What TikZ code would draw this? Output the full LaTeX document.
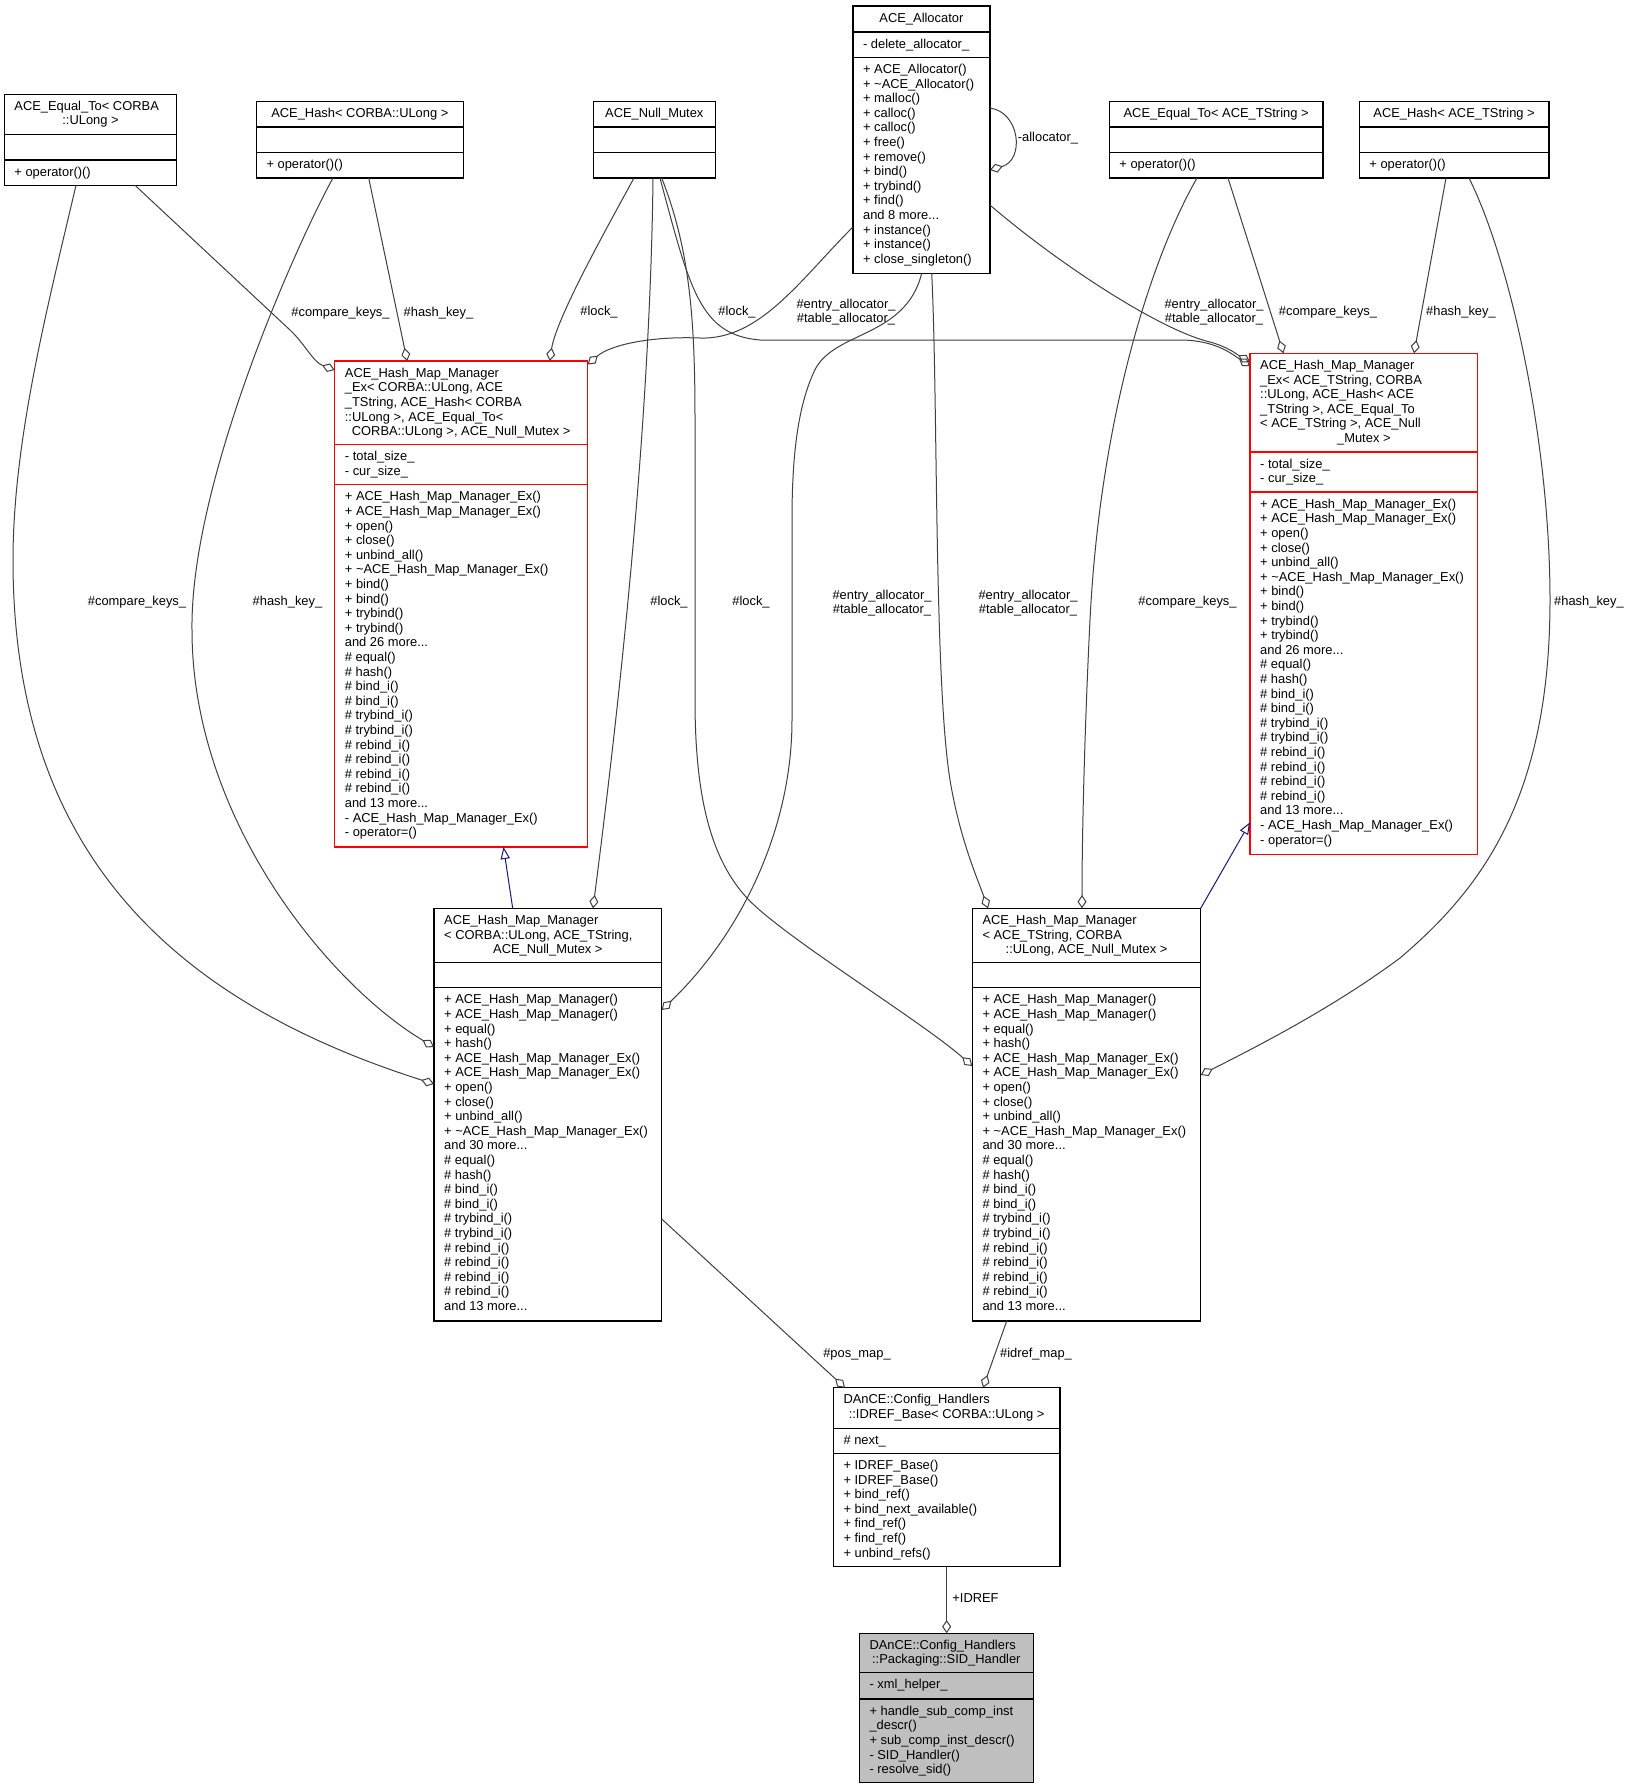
\documentclass[tikz,border=0pt]{standalone}
\usepackage{fontspec}
\setmainfont{Liberation Sans}
\usetikzlibrary{arrows.meta,calc}
\definecolor{edgegray}{HTML}{404040}
\definecolor{inhblue}{HTML}{191970}
\definecolor{boxgray}{HTML}{BFBFBF}
\tikzset{every node/.style={font=\fontsize{12.9}{14.6}\selectfont,inner sep=0pt}}

\begin{document}
\begin{tikzpicture}[x=1pt,y=-1pt]

\fill[white] (0,0) rectangle (1629,1789);
\useasboundingbox (0,0) rectangle (1629,1789);

\tikzstyle{cbox}=[rectangle,draw=black,fill=white,line width=1.2pt,outer sep=0pt,anchor=north west]
\tikzstyle{rbox}=[cbox,draw=red]
\tikzstyle{gbox}=[cbox,fill=boxgray]
\tikzstyle{hline}=[line width=1.2pt]
\tikzstyle{txt}=[anchor=north west,align=left]
\tikzstyle{ttl}=[anchor=base]
\tikzstyle{lab}=[anchor=center,align=center]
\tikzstyle{agg}=[edgegray,line width=1pt,-{Diamond[open,length=13.3pt,width=9pt]}]
\tikzstyle{inh}=[inhblue,line width=1pt,-{Triangle[open,length=12pt,width=9.3pt]}]

% ACE_Equal_To< CORBA::ULong >
\node[cbox,minimum width=172.6pt,minimum height=91pt] (EqU) at (4.2,94.3) {};
\draw[hline] ($(EqU.north west)+(0,40.4)$) -- +(172.6,0);
\draw[hline] ($(EqU.north west)+(0,65.7)$) -- +(172.6,0);
\node[txt] (EqU-t) at ($(EqU.north west)+(10,5.8)$) {\strut ACE\_Equal\_To< CORBA};
\node[ttl] (EqU-tc) at ($(EqU.north)+(0,30.6)$) {::ULong >};
\node[txt] (EqU-m) at ($(EqU.north west)+(10,71.5)$) {\strut + operator()()};

% ACE_Hash< CORBA::ULong >
\node[cbox,minimum width=207.1pt,minimum height=76.3pt] (HU) at (256.3,101.7) {};
\draw[hline] ($(HU.north west)+(0,25.3)$) -- +(207.1,0);
\draw[hline] ($(HU.north west)+(0,50.6)$) -- +(207.1,0);
\node[ttl] (HU-t) at ($(HU.north)+(0,16)$) {ACE\_Hash< CORBA::ULong >};
\node[txt] (HU-m) at ($(HU.north west)+(10,56.4)$) {\strut + operator()()};

% ACE_Null_Mutex
\node[cbox,minimum width=122.4pt,minimum height=76.3pt] (NM) at (593.1,101.7) {};
\draw[hline] ($(NM.north west)+(0,25.3)$) -- +(122.4,0);
\draw[hline] ($(NM.north west)+(0,50.6)$) -- +(122.4,0);
\node[ttl] (NM-t) at ($(NM.north)+(0,16)$) {ACE\_Null\_Mutex};

% ACE_Allocator
\node[cbox,minimum width=137pt,minimum height=267.3pt] (Al) at (852.9,6) {};
\draw[hline] ($(Al.north west)+(0,26)$) -- +(137,0);
\draw[hline] ($(Al.north west)+(0,51.3)$) -- +(137,0);
\node[ttl] (Al-t) at ($(Al.north)+(0,16)$) {ACE\_Allocator};
\node[txt] (Al-a) at ($(Al.north west)+(10,31.8)$) {\strut - delete\_allocator\_};
\node[txt] (Al-m) at ($(Al.north west)+(10,57.1)$) {\strut + ACE\_Allocator()\\
  + \textasciitilde ACE\_Allocator()\\ + malloc()\\ + calloc()\\ + calloc()\\
  + free()\\ + remove()\\ + bind()\\ + trybind()\\ + find()\\ and 8 more...\\
  + instance()\\ + instance()\\ + close\_singleton()};

% ACE_Equal_To< ACE_TString >
\node[cbox,minimum width=213.8pt,minimum height=76.3pt] (ET) at (1109.2,101.7) {};
\draw[hline] ($(ET.north west)+(0,25.3)$) -- +(213.8,0);
\draw[hline] ($(ET.north west)+(0,50.6)$) -- +(213.8,0);
\node[ttl] (ET-t) at ($(ET.north)+(0,16)$) {ACE\_Equal\_To< ACE\_TString >};
\node[txt] (ET-m) at ($(ET.north west)+(10,56.4)$) {\strut + operator()()};

% ACE_Hash< ACE_TString >
\node[cbox,minimum width=189.8pt,minimum height=76.3pt] (HT) at (1359.2,101.7) {};
\draw[hline] ($(HT.north west)+(0,25.3)$) -- +(189.8,0);
\draw[hline] ($(HT.north west)+(0,50.6)$) -- +(189.8,0);
\node[ttl] (HT-t) at ($(HT.north)+(0,16)$) {ACE\_Hash< ACE\_TString >};
\node[txt] (HT-m) at ($(HT.north west)+(10,56.4)$) {\strut + operator()()};

% ACE_Hash_Map_Manager_Ex< CORBA::ULong, ... >
\node[rbox,minimum width=253pt,minimum height=486pt] (XU) at (334.7,361) {};
\draw[hline,red] ($(XU.north west)+(0,83.7)$) -- +(253,0);
\draw[hline,red] ($(XU.north west)+(0,123.7)$) -- +(253,0);
\node[txt] (XU-t) at ($(XU.north west)+(10,5.8)$) {\strut ACE\_Hash\_Map\_Manager\\
  \_Ex< CORBA::ULong, ACE\\ \_TString, ACE\_Hash< CORBA\\ ::ULong >, ACE\_Equal\_To<};
\node[ttl] (XU-tc) at ($(XU.north)+(0,74.4)$) {CORBA::ULong >, ACE\_Null\_Mutex >};
\node[txt] (XU-a) at ($(XU.north west)+(10,89.5)$) {\strut - total\_size\_\\ - cur\_size\_};
\node[txt] (XU-m) at ($(XU.north west)+(10,129.5)$) {\strut + ACE\_Hash\_Map\_Manager\_Ex()\\
  + ACE\_Hash\_Map\_Manager\_Ex()\\ + open()\\ + close()\\ + unbind\_all()\\
  + \textasciitilde ACE\_Hash\_Map\_Manager\_Ex()\\ + bind()\\ + bind()\\
  + trybind()\\ + trybind()\\ and 26 more...\\ \# equal()\\ \# hash()\\
  \# bind\_i()\\ \# bind\_i()\\ \# trybind\_i()\\ \# trybind\_i()\\
  \# rebind\_i()\\ \# rebind\_i()\\ \# rebind\_i()\\ \# rebind\_i()\\
  and 13 more...\\ - ACE\_Hash\_Map\_Manager\_Ex()\\ - operator=()};

% ACE_Hash_Map_Manager_Ex< ACE_TString, ... >
\node[rbox,minimum width=227.7pt,minimum height=501pt] (XT) at (1250,353.3) {};
\draw[hline,red] ($(XT.north west)+(0,98.7)$) -- +(227.7,0);
\draw[hline,red] ($(XT.north west)+(0,138.7)$) -- +(227.7,0);
\node[txt] (XT-t) at ($(XT.north west)+(10,5.8)$) {\strut ACE\_Hash\_Map\_Manager\\
  \_Ex< ACE\_TString, CORBA\\ ::ULong, ACE\_Hash< ACE\\ \_TString >, ACE\_Equal\_To\\
  < ACE\_TString >, ACE\_Null};
\node[ttl] (XT-tc) at ($(XT.north)+(0,89)$) {\_Mutex >};
\node[txt] (XT-a) at ($(XT.north west)+(10,104.5)$) {\strut - total\_size\_\\ - cur\_size\_};
\node[txt] (XT-m) at ($(XT.north west)+(10,144.5)$) {\strut + ACE\_Hash\_Map\_Manager\_Ex()\\
  + ACE\_Hash\_Map\_Manager\_Ex()\\ + open()\\ + close()\\ + unbind\_all()\\
  + \textasciitilde ACE\_Hash\_Map\_Manager\_Ex()\\ + bind()\\ + bind()\\
  + trybind()\\ + trybind()\\ and 26 more...\\ \# equal()\\ \# hash()\\
  \# bind\_i()\\ \# bind\_i()\\ \# trybind\_i()\\ \# trybind\_i()\\
  \# rebind\_i()\\ \# rebind\_i()\\ \# rebind\_i()\\ \# rebind\_i()\\
  and 13 more...\\ - ACE\_Hash\_Map\_Manager\_Ex()\\ - operator=()};

% ACE_Hash_Map_Manager< CORBA::ULong, ACE_TString, ACE_Null_Mutex >
\node[cbox,minimum width=227.7pt,minimum height=412.7pt] (MU) at (434,908.3) {};
\draw[hline] ($(MU.north west)+(0,54)$) -- +(227.7,0);
\draw[hline] ($(MU.north west)+(0,79.4)$) -- +(227.7,0);
\node[txt] (MU-t) at ($(MU.north west)+(10,5.8)$) {\strut ACE\_Hash\_Map\_Manager\\
  < CORBA::ULong, ACE\_TString,};
\node[ttl] (MU-tc) at ($(MU.north)+(0,45.2)$) {ACE\_Null\_Mutex >};
\node[txt] (MU-m) at ($(MU.north west)+(10,85.2)$) {\strut + ACE\_Hash\_Map\_Manager()\\
  + ACE\_Hash\_Map\_Manager()\\ + equal()\\ + hash()\\ + ACE\_Hash\_Map\_Manager\_Ex()\\
  + ACE\_Hash\_Map\_Manager\_Ex()\\ + open()\\ + close()\\ + unbind\_all()\\
  + \textasciitilde ACE\_Hash\_Map\_Manager\_Ex()\\ and 30 more...\\ \# equal()\\
  \# hash()\\ \# bind\_i()\\ \# bind\_i()\\ \# trybind\_i()\\ \# trybind\_i()\\
  \# rebind\_i()\\ \# rebind\_i()\\ \# rebind\_i()\\ \# rebind\_i()\\ and 13 more...};

% ACE_Hash_Map_Manager< ACE_TString, CORBA::ULong, ACE_Null_Mutex >
\node[cbox,minimum width=228.4pt,minimum height=412.7pt] (MT) at (972.3,908.3) {};
\draw[hline] ($(MT.north west)+(0,54)$) -- +(228.4,0);
\draw[hline] ($(MT.north west)+(0,79.4)$) -- +(228.4,0);
\node[txt] (MT-t) at ($(MT.north west)+(10,5.8)$) {\strut ACE\_Hash\_Map\_Manager\\
  < ACE\_TString, CORBA};
\node[ttl] (MT-tc) at ($(MT.north)+(0,45.2)$) {::ULong, ACE\_Null\_Mutex >};
\node[txt] (MT-m) at ($(MT.north west)+(10,85.2)$) {\strut + ACE\_Hash\_Map\_Manager()\\
  + ACE\_Hash\_Map\_Manager()\\ + equal()\\ + hash()\\ + ACE\_Hash\_Map\_Manager\_Ex()\\
  + ACE\_Hash\_Map\_Manager\_Ex()\\ + open()\\ + close()\\ + unbind\_all()\\
  + \textasciitilde ACE\_Hash\_Map\_Manager\_Ex()\\ and 30 more...\\ \# equal()\\
  \# hash()\\ \# bind\_i()\\ \# bind\_i()\\ \# trybind\_i()\\ \# trybind\_i()\\
  \# rebind\_i()\\ \# rebind\_i()\\ \# rebind\_i()\\ \# rebind\_i()\\ and 13 more...};

% DAnCE::Config_Handlers::IDREF_Base< CORBA::ULong >
\node[cbox,minimum width=226.7pt,minimum height=179pt] (ID) at (833.3,1387.7) {};
\draw[hline] ($(ID.north west)+(0,40.6)$) -- +(226.7,0);
\draw[hline] ($(ID.north west)+(0,65.6)$) -- +(226.7,0);
\node[txt] (ID-t) at ($(ID.north west)+(10,5.8)$) {\strut DAnCE::Config\_Handlers};
\node[ttl] (ID-tc) at ($(ID.north)+(0,30.6)$) {::IDREF\_Base< CORBA::ULong >};
\node[txt] (ID-a) at ($(ID.north west)+(10,46.4)$) {\strut \# next\_};
\node[txt] (ID-m) at ($(ID.north west)+(10,71.4)$) {\strut + IDREF\_Base()\\
  + IDREF\_Base()\\ + bind\_ref()\\ + bind\_next\_available()\\ + find\_ref()\\
  + find\_ref()\\ + unbind\_refs()};

% DAnCE::Config_Handlers::Packaging::SID_Handler
\node[gbox,minimum width=174pt,minimum height=149.4pt] (SH) at (859.3,1633.3) {};
\draw[hline] ($(SH.north west)+(0,39.4)$) -- +(174,0);
\draw[hline] ($(SH.north west)+(0,65.7)$) -- +(174,0);
\node[txt] (SH-t) at ($(SH.north west)+(10,5.8)$) {\strut DAnCE::Config\_Handlers};
\node[ttl] (SH-tc) at ($(SH.north)+(0,30.6)$) {::Packaging::SID\_Handler};
\node[txt] (SH-a) at ($(SH.north west)+(10,45.2)$) {\strut - xml\_helper\_};
\node[txt] (SH-m) at ($(SH.north west)+(10,71.5)$) {\strut + handle\_sub\_comp\_inst\\
  \_descr()\\ + sub\_comp\_inst\_descr()\\ - SID\_Handler()\\ - resolve\_sid()};

% members, upper row -> ACE_Hash_Map_Manager_Ex
\draw[agg] ($(EqU.south west)+(130.8,0)$) -- (290,330) .. controls (305,344) and (313,362) .. ($(XU.north west)+(0,9)$);
\draw[agg] ($(HU.south west)+(112.4,0)$) -- ($(XU.north west)+(72.5,0)$);
\draw[agg] ($(NM.south west)+(40.9,0)$) .. controls (600,240) and (556,320) .. ($(XU.north west)+(215,0)$);
\draw[agg] ($(Al.north west)+(0,221)$) .. controls (800,280) and (760,340) .. (700,338)
  .. controls (650,336) and (610,345) .. ($(XU.north east)+(0,3.5)$);
\draw[agg] ($(NM.south west)+(66.9,0)$) .. controls (690,290) and (700,335) .. (760,340) -- (1180,340)
  .. controls (1215,340) and (1232,354) .. ($(XT.north west)+(0,12.7)$);
\draw[agg] ($(Al.north east)+(0,199)$) .. controls (1060,265) and (1160,330) .. (1210,342)
  .. controls (1228,347) and (1238,355) .. ($(XT.north west)+(0,8.7)$);
\draw[agg] ($(ET.south west)+(118.8,0)$) -- ($(XT.north west)+(33.5,0)$);
\draw[agg] ($(HT.south west)+(86.8,0)$) -- ($(XT.north west)+(164,0)$);
\draw[agg] ($(Al.north east)+(0,102)$) .. controls (1020,112) and (1025,160) .. ($(Al.north east)+(0,164)$);

% members -> ACE_Hash_Map_Manager
\draw[agg] ($(EqU.south west)+(71.8,0)$) .. controls (48,305) and (13,440) .. (13,560)
  .. controls (13,850) and (170,1000) .. ($(MU.north west)+(0,175.7)$);
\draw[agg] ($(HU.south west)+(76.7,0)$) .. controls (300,237) and (190,480) .. (192,630)
  .. controls (192,820) and (330,985) .. ($(MU.north west)+(0,138.7)$);
\draw[agg] ($(NM.south west)+(59.9,0)$) .. controls (650,450) and (612,760) .. ($(MU.north west)+(159,0)$);
\draw[agg] ($(Al.south west)+(68.8,0)$) .. controls (905,340) and (830,330) .. (813,374)
  .. controls (797,410) and (792,460) .. (792,520) -- (792,720)
  .. controls (792,830) and (740,935) .. ($(MU.north east)+(0,101.7)$);
\draw[agg] ($(NM.south west)+(68.6,0)$) .. controls (690,250) and (695,320) .. (695,420) -- (695,700)
  .. controls (695,800) and (712,860) .. (747,898)
  .. controls (782,936) and (920,1020) .. ($(MT.north west)+(0,157.7)$);
\draw[agg] ($(Al.south west)+(78.8,0)$) .. controls (938,400) and (934,680) .. (950,780)
  .. controls (960,840) and (978,880) .. ($(MT.north west)+(15.7,0)$);
\draw[agg] ($(ET.south west)+(87.8,0)$) .. controls (1150,260) and (1100,420) .. (1090,620)
  .. controls (1085,720) and (1082,830) .. ($(MT.north west)+(109.7,0)$);
\draw[agg] ($(HT.south west)+(109.8,0)$) .. controls (1510,260) and (1550,440) .. (1550,600)
  .. controls (1550,800) and (1480,890) .. (1400,958)
  .. controls (1330,1010) and (1250,1050) .. ($(MT.north east)+(0,166.7)$);

% inheritance
\draw[inh] ($(MU.north west)+(78.7,0)$) -- ($(XU.south west)+(168.8,0)$);
\draw[inh] (MT.north east) -- ($(XT.south west)+(0,-32)$);

% lower part
\draw[agg] ($(MU.north east)+(0,310.7)$) -- ($(ID.north west)+(11.7,0)$);
\draw[agg] ($(MT.south west)+(34.4,0)$) -- ($(ID.north west)+(149.7,0)$);
\draw[agg] (ID.south) -- (ID.south |- SH.north);

% labels
\node[lab] (l-ck1) at (340.5,313) {\#compare\_keys\_};
\node[lab] (l-hk1) at (438.5,313) {\#hash\_key\_};
\node[lab] (l-lk1) at (599,312) {\#lock\_};
\node[lab] (l-lk3) at (737,312) {\#lock\_};
\node[lab] (l-al1) at (846,312) {\#entry\_allocator\_\\\#table\_allocator\_};
\node[lab] (l-al4) at (1214,312) {\#entry\_allocator\_\\\#table\_allocator\_};
\node[lab] (l-ck3) at (1328,312) {\#compare\_keys\_};
\node[lab] (l-hk3) at (1461,312) {\#hash\_key\_};
\node[lab] (l-self) at (1048,138) {-allocator\_};
\node[lab] (l-ck2) at (137,602) {\#compare\_keys\_};
\node[lab] (l-hk2) at (287.5,602) {\#hash\_key\_};
\node[lab] (l-lk2) at (669,602) {\#lock\_};
\node[lab] (l-lk4) at (751,602) {\#lock\_};
\node[lab] (l-al2) at (882,603) {\#entry\_allocator\_\\\#table\_allocator\_};
\node[lab] (l-al3) at (1028,603) {\#entry\_allocator\_\\\#table\_allocator\_};
\node[lab] (l-ck4) at (1187.5,602) {\#compare\_keys\_};
\node[lab] (l-hk4) at (1589,602) {\#hash\_key\_};
\node[lab] (l-pos) at (857,1354) {\#pos\_map\_};
\node[lab] (l-idm) at (1036,1354) {\#idref\_map\_};
\node[lab] (l-idref) at (975.5,1598) {+IDREF};

\end{tikzpicture}
\end{document}
